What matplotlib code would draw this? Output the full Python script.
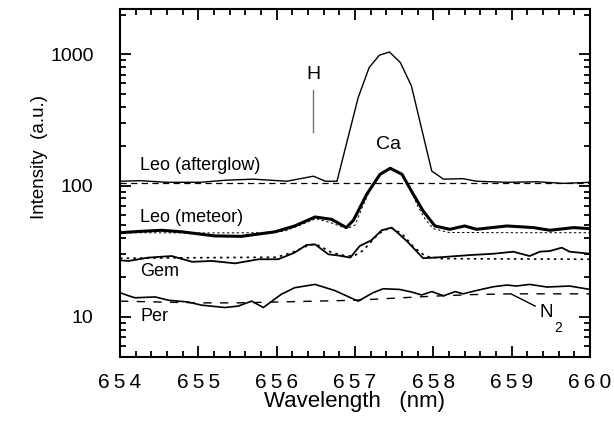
import matplotlib
matplotlib.use("Agg")
import matplotlib.pyplot as plt
from matplotlib.ticker import LogLocator, NullFormatter, FixedLocator, MultipleLocator, FuncFormatter

plt.rcParams["font.family"] = ["Liberation Sans", "DejaVu Sans"]

# Leo afterglow (thin) and its flat continuum
ag_wl = [654.0, 654.26, 654.6, 655.02, 655.36, 655.70, 656.13, 656.47, 656.62, 656.77,
         657.04, 657.18, 657.31, 657.44, 657.58, 657.72, 657.98, 658.13, 658.38, 658.55,
         658.94, 659.32, 659.66, 660.0]
ag = [108, 109, 106, 106, 110, 112, 108, 118, 108, 108,
      467, 791, 983, 1041, 863, 574, 129, 112, 113, 108,
      106, 107, 104, 106]
ag_base_wl = [654.0, 660.0]
ag_base = [105, 105]

# Leo meteor (thick) and its fit
met_wl = [654.0, 654.25, 654.53, 654.79, 655.21, 655.55, 655.98, 656.23, 656.49, 656.70,
          656.89, 656.98, 657.15, 657.32, 657.45, 657.60, 657.72, 657.87, 658.02, 658.21,
          658.40, 658.55, 658.94, 659.28, 659.49, 659.79, 660.0]
met = [43.8, 44.8, 45.7, 44.5, 41.4, 41.1, 44.5, 49.3, 57.7, 55.4,
       47.9, 54.5, 85.9, 122, 135.5, 122, 91, 64.1, 49.3, 46.5,
       49.3, 46.5, 49.3, 47.9, 45.7, 47.9, 47.0]
met_fit_wl = [654.0, 655.0, 655.8, 656.1, 656.3, 656.5, 656.7, 656.9, 657.0, 657.1, 657.2,
              657.3, 657.45, 657.6, 657.7, 657.8, 657.9, 658.0, 658.2, 659.0, 660.0]
met_fit = [43.8, 43.6, 43.8, 45, 50, 56, 52, 47, 50, 70, 95,
           120, 134, 120, 95, 70, 55, 47, 44, 43.8, 43.8]

# Gem and its fit
gem_wl = [654.0, 654.11, 654.36, 654.66, 654.92, 655.17, 655.47, 655.77, 656.02, 656.23,
          656.38, 656.49, 656.66, 656.80, 656.94, 657.06, 657.21, 657.34, 657.47, 657.66,
          657.87, 658.13, 658.47, 658.77, 659.02, 659.23, 659.36, 659.49, 659.64, 659.74, 660.0]
gem = [27.0, 26.7, 28.3, 29.1, 26.3, 26.7, 25.6, 27.5, 27.5, 30.9,
       35.3, 35.7, 30.0, 29.3, 28.3, 34.7, 38.4, 45.7, 47.9, 37.9,
       28.0, 28.6, 29.6, 30.3, 31.4, 29.1, 31.4, 31.8, 33.7, 31.4, 30.3]
gem_fit_wl = [654.0, 656.0, 656.2, 656.4, 656.5, 656.7, 656.9, 657.0, 657.1, 657.2,
              657.3, 657.45, 657.6, 657.75, 657.9, 658.1, 660.0]
gem_fit = [28.0, 28.5, 31, 35, 36, 31, 29, 29.5, 32, 37,
           43, 48, 43, 34, 29, 27.8, 27.5]

# Per and its fit
per_wl = [654.0, 654.11, 654.19, 654.45, 654.62, 654.87, 655.04, 655.34, 655.51, 655.68,
          655.83, 656.06, 656.23, 656.49, 656.74, 657.04, 657.23, 657.36, 657.57, 657.72,
          657.85, 657.98, 658.13, 658.28, 658.38, 658.55, 658.77, 658.94, 659.06, 659.23,
          659.45, 659.74, 660.0]
per = [15.3, 14.5, 14.0, 14.2, 13.4, 13.0, 12.3, 11.8, 12.1, 13.2,
       11.8, 14.9, 16.7, 17.7, 15.9, 13.2, 15.3, 16.4, 16.2, 15.5,
       14.7, 15.6, 14.5, 15.6, 15.0, 15.9, 17.0, 17.5, 17.2, 17.7,
       16.9, 17.2, 16.2]
per_fit_wl = [654.0, 654.5, 655.0, 655.5, 656.0, 656.5, 657.0, 657.5, 658.0, 658.5, 659.0, 659.5, 660.0]
per_fit = [13.2, 13.0, 12.8, 12.8, 13.0, 13.2, 13.4, 13.9, 14.4, 14.8, 15.0, 15.0, 15.0]

fig = plt.figure(figsize=(6.14, 4.26), dpi=100)
ax = fig.add_axes([120 / 614, 1 - 356.5 / 426, 470 / 614, (356.5 - 9.3) / 426])

ax.plot(ag_wl, ag, color="k", lw=1.0)
ax.plot(ag_base_wl, ag_base, color="k", lw=0.9, dashes=(5, 3.5))
ax.plot(met_fit_wl, met_fit, color="k", lw=0.7, dashes=(2.5, 2.5))
ax.plot(met_wl, met, color="k", lw=2.2)
ax.plot(gem_fit_wl, gem_fit, color="k", lw=1.2, dashes=(1.5, 2.5))
ax.plot(gem_wl, gem, color="k", lw=1.3)
ax.plot(per_fit_wl, per_fit, color="k", lw=1.0, dashes=(6, 6))
ax.plot(per_wl, per, color="k", lw=1.2)

# annotations
ax.plot([656.47, 656.47], [257, 532], color="0.45", lw=1.0)
ax.text(656.47, 704, "H", ha="center", va="center", fontsize=14)
ax.text(657.43, 206, "Ca", ha="center", va="center", fontsize=14)
ax.plot([659.0, 659.30], [14.9, 12.1], color="k", lw=1.0)
ax.text(659.36, 10.8, "N", ha="left", va="center", fontsize=13.5)
ax.text(659.55, 8.3, "2", ha="left", va="center", fontsize=10)

lab_x = 654.26
ax.text(lab_x, 143, "Leo (afterglow)", ha="left", va="center", fontsize=13)
ax.text(lab_x, 57, "Leo (meteor)", ha="left", va="center", fontsize=13)
ax.text(lab_x, 22, "Gem", ha="left", va="center", fontsize=13)
ax.text(lab_x, 10, "Per", ha="left", va="center", fontsize=13)

ax.set_yscale("log")
ax.set_xlim(654, 660)
ax.set_ylim(5, 2200)
ax.xaxis.set_major_locator(MultipleLocator(1))
ax.xaxis.set_minor_locator(MultipleLocator(0.2))
ax.xaxis.set_major_formatter(FuncFormatter(lambda v, p: "\u2009".join(f"{v:.0f}")))
ax.yaxis.set_major_locator(FixedLocator([10, 100, 1000]))
ax.yaxis.set_minor_locator(LogLocator(base=10, subs=range(2, 10)))
ax.yaxis.set_minor_formatter(NullFormatter())
ax.yaxis.set_major_formatter(FuncFormatter(lambda v, p: f"{v:.0f}"))

for s in ax.spines.values():
    s.set_linewidth(1.5)
ax.tick_params(which="both", direction="in", top=True, right=True, width=1.3)
ax.tick_params(which="major", length=8)
ax.tick_params(which="minor", length=4.5)
ax.tick_params(axis="x", which="major", labelsize=15, pad=12)
ax.tick_params(axis="y", which="major", labelsize=14, pad=19)

fig.text(354 / 614, 1 - 401 / 426, "Wavelength   (nm)", ha="center", va="center", fontsize=16)
fig.text(40 / 614, 1 - 157 / 426, "Intensity  (a.u.)", ha="center", va="center",
         rotation=90, fontsize=13.5)

fig.savefig("out.png", dpi=100)
